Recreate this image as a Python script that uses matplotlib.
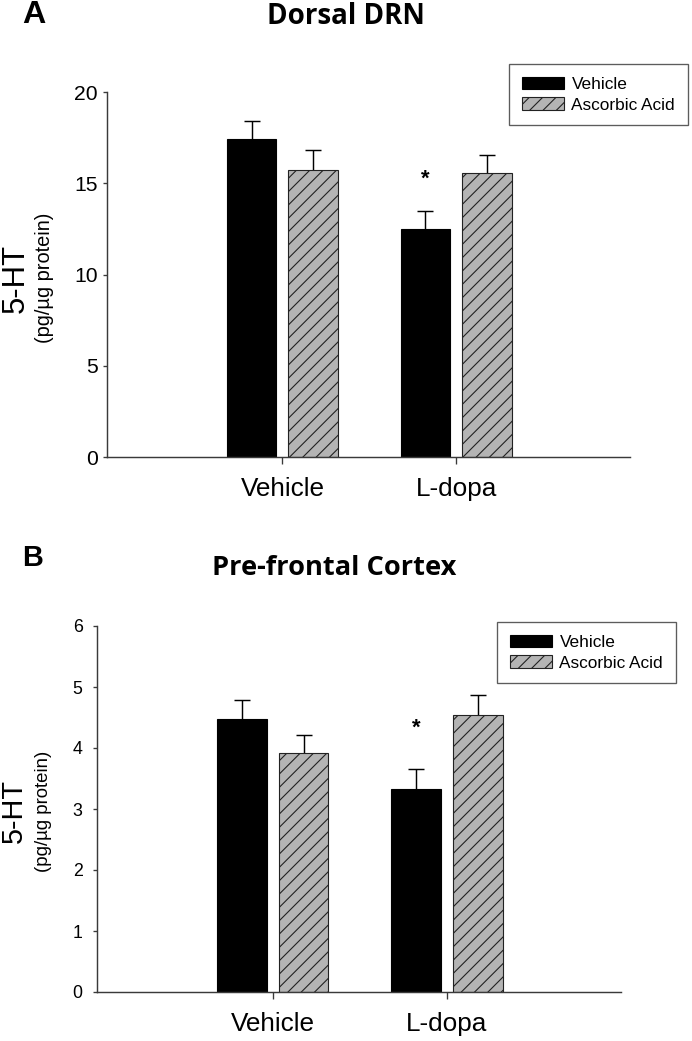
import matplotlib
matplotlib.use("Agg")
import matplotlib.pyplot as plt
import numpy as np

groups = ["Vehicle", "L-dopa"]
series = ["Vehicle", "Ascorbic Acid"]

# panel A: Dorsal DRN
drn_vehicle = [17.4, 12.5]
drn_vehicle_err = [1.0, 1.0]
drn_aa = [15.75, 15.55]
drn_aa_err = [1.05, 1.0]
drn_ticks = [0, 5, 10, 15, 20]

# panel B: pre-frontal cortex
pfc_vehicle = [4.47, 3.32]
pfc_vehicle_err = [0.31, 0.34]
pfc_aa = [3.91, 4.54]
pfc_aa_err = [0.31, 0.33]
pfc_ticks = [0, 1, 2, 3, 4, 5, 6]

DPI = 80
W, H = 692, 1041
fig = plt.figure(figsize=(W / DPI, H / DPI), dpi=DPI)
plt.rcParams["font.family"] = ["Liberation Sans", "DejaVu Sans"]
plt.rcParams["hatch.linewidth"] = 1.0

axcol = "#3a3a3a"
gray = "#b4b4b4"


def px_rect(left, right, top, bottom):
    return [left / W, 1 - bottom / H, (right - left) / W, (bottom - top) / H]


def draw_panel(ax, veh, veh_err, aa, aa_err, ticks, star_y, tick_fs, ypad, legend_anchor):
    x = np.arange(len(groups))
    off, bw = 0.177, 0.285
    ax.errorbar(x - off, veh, yerr=veh_err, fmt="none", ecolor="black",
                elinewidth=1.3, capsize=7, capthick=1.3, zorder=1)
    ax.errorbar(x + off, aa, yerr=aa_err, fmt="none", ecolor="black",
                elinewidth=1.3, capsize=7, capthick=1.3, zorder=1)
    ax.bar(x - off, veh, bw, color="black", edgecolor="black", linewidth=1.0,
           label=series[0], zorder=2)
    ax.bar(x + off, aa, bw, color=gray, edgecolor="#222222", hatch="//",
           linewidth=1.0, label=series[1], zorder=2)
    ax.text(x[1] - off, star_y, "*", ha="center", va="center",
            fontsize=20, fontweight="bold")
    ax.set_xlim(-1.01, 2.0)
    ax.set_ylim(0, ticks[-1])
    ax.set_yticks(ticks)
    ax.set_xticks(x)
    ax.set_xticklabels(groups, fontsize=23.5)
    ax.tick_params(axis="y", labelsize=tick_fs, direction="out", length=4,
                   width=1.2, color=axcol, pad=ypad)
    ax.tick_params(axis="x", direction="out", length=6, width=1.2,
                   color=axcol, pad=12)
    for s in ["top", "right"]:
        ax.spines[s].set_visible(False)
    for s in ["left", "bottom"]:
        ax.spines[s].set_color(axcol)
        ax.spines[s].set_linewidth(1.3)
    leg = ax.legend(loc="upper right", bbox_to_anchor=legend_anchor,
                    bbox_transform=fig.transFigure, borderaxespad=0,
                    fontsize=15.5, frameon=True, fancybox=False,
                    handlelength=2.4, handleheight=0.7, handletextpad=0.45,
                    labelspacing=0.32, borderpad=0.75)
    leg.get_frame().set_edgecolor("#333333")
    leg.get_frame().set_linewidth(1.2)
    return ax


axA = fig.add_axes(px_rect(107, 630, 92, 457))
draw_panel(axA, drn_vehicle, drn_vehicle_err, drn_aa, drn_aa_err,
           drn_ticks, 15.2, 19, 4.5, (688 / W, 1 - 64 / H))

axB = fig.add_axes(px_rect(97, 621, 626, 992))
draw_panel(axB, pfc_vehicle, pfc_vehicle_err, pfc_aa, pfc_aa_err,
           pfc_ticks, 4.33, 16, 9, (676 / W, 1 - 622 / H))

# panel letters and titles
fig.text(34 / W, 1 - 15 / H, "A", ha="center", va="center",
         fontsize=29, fontweight="bold")
fig.text(33 / W, 1 - 558 / H, "B", ha="center", va="center",
         fontsize=26, fontweight="bold")
fig.text(346 / W, 1 - 16 / H, "Dorsal DRN", ha="center", va="center",
         fontsize=25, fontweight="bold", family="Open Sans")
fig.text(334 / W, 1 - 568 / H, "Pre-frontal Cortex", ha="center", va="center",
         fontsize=24.5, fontweight="bold", family="Open Sans")

# y-axis labels (two lines, different sizes)
fig.text(16 / W, 1 - 278 / H, "5-HT", rotation=90, ha="center", va="center",
         fontsize=28)
fig.text(45 / W, 1 - 278 / H, "(pg/\u00b5g protein)", rotation=90,
         ha="center", va="center", fontsize=18)
fig.text(14 / W, 1 - 811 / H, "5-HT", rotation=90, ha="center", va="center",
         fontsize=26)
fig.text(43 / W, 1 - 811 / H, "(pg/\u00b5g protein)", rotation=90,
         ha="center", va="center", fontsize=16.8)

fig.savefig("out.png", dpi=DPI)
